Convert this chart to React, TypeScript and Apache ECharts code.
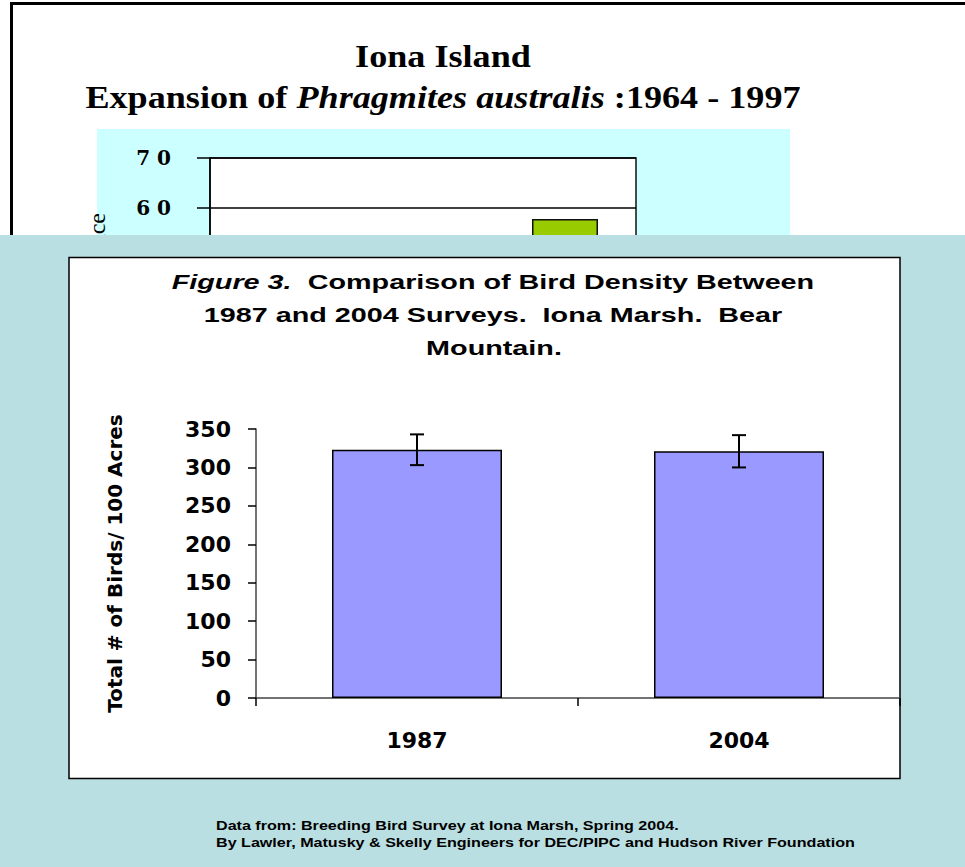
import React, { useEffect, useRef } from "react";
import * as echarts from "echarts";

// ---- background slide (partly hidden) ----
const bgTitleLine1 = "Iona Island";
const bgTitleLine2a = "Expansion of ";
const bgTitleLine2b = "Phragmites australis";
const bgTitleLine2c = " :1964 - 1997";
const bgAxisName = "Relative Abundance";
const bgCategories = ["1964", "1980", "1997"];
const bgValues: (number | null)[] = [null, null, 57.8];
const bgYMin = 0;
const bgYMax = 70;
const bgYStep = 10;

// ---- main figure ----
const titleLine1a = "Figure 3.";
const titleLine1b = "  Comparison of Bird Density Between";
const titleLine2 = "1987 and 2004 Surveys.  Iona Marsh.  Bear";
const titleLine3 = "Mountain.";
const yAxisName = "Total # of Birds/ 100 Acres";
const categories = ["1987", "2004"];
const density = [323, 321];
const densityError = [20, 21];
const yMin = 0;
const yMax = 350;
const yStep = 50;
const footnote1 = "Data from: Breeding Bird Survey at Iona Marsh, Spring 2004.";
const footnote2 = "By Lawler, Matusky & Skelly Engineers for DEC/PIPC and Hudson River Foundation";

const SANS = "'Liberation Sans', Arial, sans-serif";
const SANS_WIDE = "'DejaVu Sans', sans-serif";
const SERIF = "'Liberation Serif', 'Times New Roman', serif";

export default function App() {
  const ref = useRef<HTMLDivElement>(null);
  useEffect(() => {
    if (!ref.current) return;
    const chart = echarts.init(ref.current, undefined, { renderer: "svg" });
    const errData = categories.map((c, i) => [i, density[i], densityError[i]]);
    chart.setOption({
      animation: false,
      backgroundColor: "#ffffff",
      grid: [
        { left: 210, top: 158, width: 426, height: 350, show: true, borderColor: "#111", borderWidth: 1.5, backgroundColor: "#ffffff", z: 1 },
        { left: 256, top: 429, width: 644, height: 269, show: false, z: 20 },
      ],
      xAxis: [
        {
          gridIndex: 0, type: "category", data: bgCategories, z: 1,
          axisLine: { lineStyle: { color: "#000" } }, axisTick: { show: false },
          axisLabel: { show: false },
        },
        {
          gridIndex: 1, type: "category", data: categories, z: 20,
          axisLine: { lineStyle: { color: "#444", width: 1.5 } },
          axisTick: { show: true, length: 8, lineStyle: { color: "#000", width: 1.5 } },
          axisLabel: { color: "#000", fontFamily: SANS_WIDE, fontWeight: "bold", fontSize: 22, margin: 31 },
        },
      ],
      yAxis: [
        {
          gridIndex: 0, type: "value", min: bgYMin, max: bgYMax, interval: bgYStep, z: 1,
          axisLine: { show: true, lineStyle: { color: "#000", width: 1.5 } },
          axisTick: { show: true, length: 13, lineStyle: { color: "#000", width: 1.5 } },
          splitLine: { show: true, lineStyle: { color: "#000", width: 1.5 } },
          axisLabel: {
            color: "#000", fontFamily: "'DejaVu Serif', serif", fontWeight: "bold", fontSize: 20, margin: 39,
            formatter: (v: number) => String(v).split("").join(" "),
          },
        },
        {
          gridIndex: 1, type: "value", min: yMin, max: yMax, interval: yStep, z: 20,
          name: yAxisName, nameLocation: "middle", nameGap: 131,
          nameTextStyle: { color: "#000", fontFamily: SANS_WIDE, fontWeight: "bold", fontSize: 20 },
          axisLine: { show: true, lineStyle: { color: "#444", width: 1.5 } },
          axisTick: { show: true, length: 8, lineStyle: { color: "#000", width: 1.5 } },
          splitLine: { show: false },
          axisLabel: { color: "#000", fontFamily: SANS_WIDE, fontWeight: "bold", fontSize: 22, margin: 25 },
        },
      ],
      series: [
        {
          type: "bar", xAxisIndex: 0, yAxisIndex: 0, data: bgValues, barWidth: 66, z: 2,
          itemStyle: { color: "#99CC00", borderColor: "#111", borderWidth: 1.5 },
        },
        {
          type: "bar", xAxisIndex: 1, yAxisIndex: 1, data: density, barWidth: 170, z: 21,
          itemStyle: { color: "#9999FF", borderColor: "#000", borderWidth: 1.5 },
        },
        {
          type: "custom", xAxisIndex: 1, yAxisIndex: 1, data: errData, z: 22,
          encode: { x: 0, y: 1 },
          renderItem: (params: any, api: any) => {
            const i = api.value(0);
            const v = api.value(1);
            const e = api.value(2);
            const top = api.coord([i, v + e]);
            const bot = api.coord([i, v - e]);
            const h = 7;
            const st = { stroke: "#000", lineWidth: 2 };
            return {
              type: "group",
              children: [
                { type: "line", shape: { x1: top[0], y1: top[1], x2: bot[0], y2: bot[1] }, style: st },
                { type: "line", shape: { x1: top[0] - h, y1: top[1], x2: top[0] + h, y2: top[1] }, style: st },
                { type: "line", shape: { x1: bot[0] - h, y1: bot[1], x2: bot[0] + h, y2: bot[1] }, style: st },
              ],
            };
          },
        },
      ],
      graphic: {
        elements: [
          // background page
          { type: "rect", z: -10, shape: { x: 11.5, y: 3.5, width: 1000, height: 1000 }, style: { fill: "#ffffff", stroke: "#000", lineWidth: 3 } },
          { type: "rect", z: -9, shape: { x: 97, y: 129, width: 693, height: 200 }, style: { fill: "#CCFFFF" } },
          {
            type: "text", z: -8, x: 443, y: 56, scaleX: 1.13,
            style: { text: bgTitleLine1, fontFamily: SERIF, fontWeight: "bold", fontSize: 32, fill: "#000", align: "center", verticalAlign: "middle" },
          },
          {
            type: "text", z: -8, x: 443, y: 97, scaleX: 1.13,
            style: {
              text: `{b|${bgTitleLine2a}}{i|${bgTitleLine2b}}{b|${bgTitleLine2c}}`,
              align: "center", verticalAlign: "middle",
              rich: {
                b: { fontFamily: SERIF, fontWeight: "bold", fontSize: 32, fill: "#000", color: "#000" },
                i: { fontFamily: SERIF, fontWeight: "bold", fontStyle: "italic", fontSize: 32, fill: "#000", color: "#000" },
              },
            },
          },
          {
            type: "text", z: -8, x: 97, y: 213, rotation: Math.PI / 2,
            style: { text: bgAxisName, fontFamily: SERIF, fontSize: 24, fill: "#000", align: "right", verticalAlign: "middle" },
          },
          // foreground panel
          { type: "rect", z: 10, shape: { x: 0, y: 235, width: 965, height: 632 }, style: { fill: "#BADFE2" } },
          { type: "rect", z: 11, shape: { x: 69, y: 257.5, width: 831, height: 521 }, style: { fill: "#ffffff", stroke: "#000", lineWidth: 1.5 } },
          {
            type: "text", z: 30, x: 493, y: 281, scaleX: 1.37,
            style: {
              text: `{i|${titleLine1a}}{b|${titleLine1b}}`,
              align: "center", verticalAlign: "middle",
              rich: {
                i: { fontFamily: SANS, fontWeight: "bold", fontStyle: "italic", fontSize: 21, color: "#000" },
                b: { fontFamily: SANS, fontWeight: "bold", fontSize: 21, color: "#000" },
              },
            },
          },
          {
            type: "text", z: 30, x: 493, y: 314, scaleX: 1.37,
            style: { text: titleLine2, fontFamily: SANS, fontWeight: "bold", fontSize: 21, fill: "#000", align: "center", verticalAlign: "middle" },
          },
          {
            type: "text", z: 30, x: 494, y: 347, scaleX: 1.37,
            style: { text: titleLine3, fontFamily: SANS, fontWeight: "bold", fontSize: 21, fill: "#000", align: "center", verticalAlign: "middle" },
          },
          {
            type: "text", z: 30, x: 216, y: 826, scaleX: 1.29,
            style: { text: footnote1, fontFamily: SANS, fontWeight: "bold", fontSize: 12.5, fill: "#000", align: "left", verticalAlign: "middle" },
          },
          {
            type: "text", z: 30, x: 216, y: 843, scaleX: 1.29,
            style: { text: footnote2, fontFamily: SANS, fontWeight: "bold", fontSize: 12.5, fill: "#000", align: "left", verticalAlign: "middle" },
          },
        ],
      },
    });
    return () => chart.dispose();
  }, []);
  return <div ref={ref} style={{ position: "absolute", left: 0, top: 0, width: 965, height: 867 }} />;
}
